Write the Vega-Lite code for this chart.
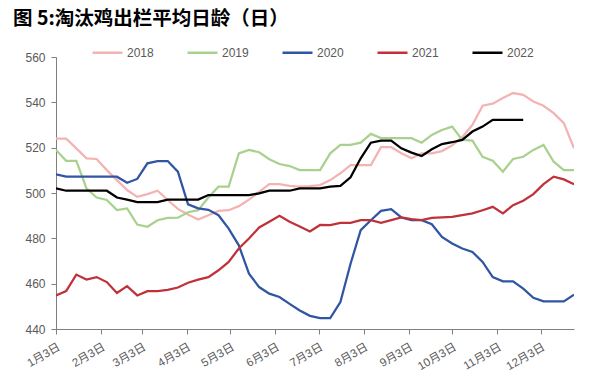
{
  "$schema": "https://vega.github.io/schema/vega-lite/v6.json",
  "width": 518,
  "height": 272,
  "autosize": {"type": "none"},
  "padding": {"left": 56, "top": 57, "right": 19, "bottom": 55},
  "background": "white",
  "title": {
    "text": "图 5:淘汰鸡出栏平均日龄（日）",
    "anchor": "start",
    "frame": "group",
    "dx": -43,
    "offset": 7,
    "font": "Noto Sans CJK SC",
    "fontSize": 19.5,
    "fontWeight": "bold",
    "color": "#000000"
  },
  "config": {
    "view": {"stroke": null},
    "font": "Liberation Sans"
  },
  "datasets": {
    "rows": [
      {"d":"2022-01-03","s":"2018","v":524},{"d":"2022-01-10","s":"2018","v":524},{"d":"2022-01-17","s":"2018","v":519.7},{"d":"2022-01-24","s":"2018","v":515.3},{"d":"2022-01-31","s":"2018","v":515},{"d":"2022-02-07","s":"2018","v":510.1},{"d":"2022-02-14","s":"2018","v":505.7},{"d":"2022-02-21","s":"2018","v":501.3},{"d":"2022-02-28","s":"2018","v":498.3},{"d":"2022-03-07","s":"2018","v":499.5},{"d":"2022-03-14","s":"2018","v":501},{"d":"2022-03-21","s":"2018","v":496.9},{"d":"2022-03-28","s":"2018","v":493},{"d":"2022-04-04","s":"2018","v":490.5},{"d":"2022-04-11","s":"2018","v":488.3},{"d":"2022-04-18","s":"2018","v":490.2},{"d":"2022-04-25","s":"2018","v":492.1},{"d":"2022-05-02","s":"2018","v":492.4},{"d":"2022-05-09","s":"2018","v":494.2},{"d":"2022-05-16","s":"2018","v":497.1},{"d":"2022-05-23","s":"2018","v":500.5},{"d":"2022-05-30","s":"2018","v":503.9},{"d":"2022-06-06","s":"2018","v":503.9},{"d":"2022-06-13","s":"2018","v":503.1},{"d":"2022-06-20","s":"2018","v":502.8},{"d":"2022-06-27","s":"2018","v":503},{"d":"2022-07-04","s":"2018","v":503.5},{"d":"2022-07-11","s":"2018","v":505.7},{"d":"2022-07-18","s":"2018","v":508.7},{"d":"2022-07-25","s":"2018","v":512.3},{"d":"2022-08-01","s":"2018","v":512.3},{"d":"2022-08-08","s":"2018","v":512.3},{"d":"2022-08-15","s":"2018","v":520.2},{"d":"2022-08-22","s":"2018","v":520.2},{"d":"2022-08-29","s":"2018","v":517.5},{"d":"2022-09-05","s":"2018","v":515.3},{"d":"2022-09-12","s":"2018","v":517.5},{"d":"2022-09-19","s":"2018","v":517.5},{"d":"2022-09-26","s":"2018","v":518.5},{"d":"2022-10-03","s":"2018","v":521},{"d":"2022-10-10","s":"2018","v":524.6},{"d":"2022-10-17","s":"2018","v":530.1},{"d":"2022-10-24","s":"2018","v":538.5},{"d":"2022-10-31","s":"2018","v":539.4},{"d":"2022-11-07","s":"2018","v":541.9},{"d":"2022-11-14","s":"2018","v":544.1},{"d":"2022-11-21","s":"2018","v":543.3},{"d":"2022-11-28","s":"2018","v":540.4},{"d":"2022-12-05","s":"2018","v":538.5},{"d":"2022-12-12","s":"2018","v":535.2},{"d":"2022-12-19","s":"2018","v":530.8},{"d":"2022-12-26","s":"2018","v":519.7},
      {"d":"2022-01-03","s":"2019","v":519},{"d":"2022-01-10","s":"2019","v":514.2},{"d":"2022-01-17","s":"2019","v":514.2},{"d":"2022-01-24","s":"2019","v":502},{"d":"2022-01-31","s":"2019","v":498},{"d":"2022-02-07","s":"2019","v":496.9},{"d":"2022-02-14","s":"2019","v":492.5},{"d":"2022-02-21","s":"2019","v":493.2},{"d":"2022-02-28","s":"2019","v":486.1},{"d":"2022-03-07","s":"2019","v":485.1},{"d":"2022-03-14","s":"2019","v":488},{"d":"2022-03-21","s":"2019","v":489},{"d":"2022-03-28","s":"2019","v":489.1},{"d":"2022-04-04","s":"2019","v":491.5},{"d":"2022-04-11","s":"2019","v":492.4},{"d":"2022-04-18","s":"2019","v":498},{"d":"2022-04-25","s":"2019","v":502.8},{"d":"2022-05-02","s":"2019","v":502.8},{"d":"2022-05-09","s":"2019","v":517.5},{"d":"2022-05-16","s":"2019","v":519},{"d":"2022-05-23","s":"2019","v":518},{"d":"2022-05-30","s":"2019","v":514.9},{"d":"2022-06-06","s":"2019","v":512.8},{"d":"2022-06-13","s":"2019","v":511.9},{"d":"2022-06-20","s":"2019","v":510.1},{"d":"2022-06-27","s":"2019","v":510.1},{"d":"2022-07-04","s":"2019","v":510.1},{"d":"2022-07-11","s":"2019","v":517.5},{"d":"2022-07-18","s":"2019","v":521.2},{"d":"2022-07-25","s":"2019","v":521.2},{"d":"2022-08-01","s":"2019","v":522.2},{"d":"2022-08-08","s":"2019","v":526.1},{"d":"2022-08-15","s":"2019","v":524.2},{"d":"2022-08-22","s":"2019","v":524.2},{"d":"2022-08-29","s":"2019","v":524.2},{"d":"2022-09-05","s":"2019","v":524.2},{"d":"2022-09-12","s":"2019","v":522.2},{"d":"2022-09-19","s":"2019","v":525.6},{"d":"2022-09-26","s":"2019","v":527.8},{"d":"2022-10-03","s":"2019","v":529.3},{"d":"2022-10-10","s":"2019","v":523.4},{"d":"2022-10-17","s":"2019","v":523.1},{"d":"2022-10-24","s":"2019","v":516},{"d":"2022-10-31","s":"2019","v":514.2},{"d":"2022-11-07","s":"2019","v":509.4},{"d":"2022-11-14","s":"2019","v":515},{"d":"2022-11-21","s":"2019","v":516},{"d":"2022-11-28","s":"2019","v":519},{"d":"2022-12-05","s":"2019","v":521.2},{"d":"2022-12-12","s":"2019","v":513.8},{"d":"2022-12-19","s":"2019","v":510.1},{"d":"2022-12-26","s":"2019","v":510.1},
      {"d":"2022-01-03","s":"2020","v":508.2},{"d":"2022-01-10","s":"2020","v":507.2},{"d":"2022-01-17","s":"2020","v":507.2},{"d":"2022-01-24","s":"2020","v":507.2},{"d":"2022-01-31","s":"2020","v":507.2},{"d":"2022-02-07","s":"2020","v":507.2},{"d":"2022-02-14","s":"2020","v":507.2},{"d":"2022-02-21","s":"2020","v":504.5},{"d":"2022-02-28","s":"2020","v":506.2},{"d":"2022-03-07","s":"2020","v":513.1},{"d":"2022-03-14","s":"2020","v":514.1},{"d":"2022-03-21","s":"2020","v":514.1},{"d":"2022-03-28","s":"2020","v":509.4},{"d":"2022-04-04","s":"2020","v":495},{"d":"2022-04-11","s":"2020","v":493.2},{"d":"2022-04-18","s":"2020","v":492.6},{"d":"2022-04-25","s":"2020","v":490.2},{"d":"2022-05-02","s":"2020","v":484.3},{"d":"2022-05-09","s":"2020","v":476.9},{"d":"2022-05-16","s":"2020","v":464.4},{"d":"2022-05-23","s":"2020","v":458.5},{"d":"2022-05-30","s":"2020","v":455.6},{"d":"2022-06-06","s":"2020","v":454.1},{"d":"2022-06-13","s":"2020","v":451.1},{"d":"2022-06-20","s":"2020","v":448.2},{"d":"2022-06-27","s":"2020","v":445.8},{"d":"2022-07-04","s":"2020","v":444.8},{"d":"2022-07-11","s":"2020","v":444.8},{"d":"2022-07-18","s":"2020","v":451.9},{"d":"2022-07-25","s":"2020","v":468.8},{"d":"2022-08-01","s":"2020","v":483.6},{"d":"2022-08-08","s":"2020","v":488},{"d":"2022-08-15","s":"2020","v":492.1},{"d":"2022-08-22","s":"2020","v":492.9},{"d":"2022-08-29","s":"2020","v":489.2},{"d":"2022-09-05","s":"2020","v":488},{"d":"2022-09-12","s":"2020","v":488},{"d":"2022-09-19","s":"2020","v":486.2},{"d":"2022-09-26","s":"2020","v":480.6},{"d":"2022-10-03","s":"2020","v":477.7},{"d":"2022-10-10","s":"2020","v":475.5},{"d":"2022-10-17","s":"2020","v":474},{"d":"2022-10-24","s":"2020","v":469.6},{"d":"2022-10-31","s":"2020","v":462.9},{"d":"2022-11-07","s":"2020","v":461},{"d":"2022-11-14","s":"2020","v":461},{"d":"2022-11-21","s":"2020","v":457.8},{"d":"2022-11-28","s":"2020","v":453.8},{"d":"2022-12-05","s":"2020","v":452.2},{"d":"2022-12-12","s":"2020","v":452.2},{"d":"2022-12-19","s":"2020","v":452.2},{"d":"2022-12-26","s":"2020","v":455.1},
      {"d":"2022-01-03","s":"2021","v":454.8},{"d":"2022-01-10","s":"2021","v":456.7},{"d":"2022-01-17","s":"2021","v":464},{"d":"2022-01-24","s":"2021","v":461.8},{"d":"2022-01-31","s":"2021","v":462.9},{"d":"2022-02-07","s":"2021","v":460.7},{"d":"2022-02-14","s":"2021","v":455.9},{"d":"2022-02-21","s":"2021","v":458.9},{"d":"2022-02-28","s":"2021","v":454.8},{"d":"2022-03-07","s":"2021","v":456.7},{"d":"2022-03-14","s":"2021","v":456.7},{"d":"2022-03-21","s":"2021","v":457.3},{"d":"2022-03-28","s":"2021","v":458.3},{"d":"2022-04-04","s":"2021","v":460.4},{"d":"2022-04-11","s":"2021","v":461.8},{"d":"2022-04-18","s":"2021","v":462.9},{"d":"2022-04-25","s":"2021","v":465.9},{"d":"2022-05-02","s":"2021","v":469.6},{"d":"2022-05-09","s":"2021","v":475.5},{"d":"2022-05-16","s":"2021","v":479.9},{"d":"2022-05-23","s":"2021","v":484.8},{"d":"2022-05-30","s":"2021","v":487.3},{"d":"2022-06-06","s":"2021","v":489.9},{"d":"2022-06-13","s":"2021","v":487.3},{"d":"2022-06-20","s":"2021","v":485.2},{"d":"2022-06-27","s":"2021","v":483},{"d":"2022-07-04","s":"2021","v":485.9},{"d":"2022-07-11","s":"2021","v":485.8},{"d":"2022-07-18","s":"2021","v":486.8},{"d":"2022-07-25","s":"2021","v":486.8},{"d":"2022-08-01","s":"2021","v":488},{"d":"2022-08-08","s":"2021","v":488},{"d":"2022-08-15","s":"2021","v":486.8},{"d":"2022-08-22","s":"2021","v":488},{"d":"2022-08-29","s":"2021","v":489.2},{"d":"2022-09-05","s":"2021","v":488.5},{"d":"2022-09-12","s":"2021","v":488},{"d":"2022-09-19","s":"2021","v":489},{"d":"2022-09-26","s":"2021","v":489.3},{"d":"2022-10-03","s":"2021","v":489.5},{"d":"2022-10-10","s":"2021","v":490.2},{"d":"2022-10-17","s":"2021","v":491},{"d":"2022-10-24","s":"2021","v":492.4},{"d":"2022-10-31","s":"2021","v":493.9},{"d":"2022-11-07","s":"2021","v":491},{"d":"2022-11-14","s":"2021","v":494.6},{"d":"2022-11-21","s":"2021","v":496.6},{"d":"2022-11-28","s":"2021","v":499.5},{"d":"2022-12-05","s":"2021","v":503.9},{"d":"2022-12-12","s":"2021","v":507.2},{"d":"2022-12-19","s":"2021","v":506},{"d":"2022-12-26","s":"2021","v":503.9},
      {"d":"2022-01-03","s":"2022","v":502},{"d":"2022-01-10","s":"2022","v":501},{"d":"2022-01-17","s":"2022","v":501},{"d":"2022-01-24","s":"2022","v":501},{"d":"2022-01-31","s":"2022","v":501},{"d":"2022-02-07","s":"2022","v":501},{"d":"2022-02-14","s":"2022","v":498},{"d":"2022-02-21","s":"2022","v":497.1},{"d":"2022-02-28","s":"2022","v":496},{"d":"2022-03-07","s":"2022","v":496},{"d":"2022-03-14","s":"2022","v":496},{"d":"2022-03-21","s":"2022","v":497.1},{"d":"2022-03-28","s":"2022","v":497.1},{"d":"2022-04-04","s":"2022","v":497.1},{"d":"2022-04-11","s":"2022","v":497.1},{"d":"2022-04-18","s":"2022","v":499.1},{"d":"2022-04-25","s":"2022","v":499.1},{"d":"2022-05-02","s":"2022","v":499.1},{"d":"2022-05-09","s":"2022","v":499.1},{"d":"2022-05-16","s":"2022","v":499.1},{"d":"2022-05-23","s":"2022","v":499.8},{"d":"2022-05-30","s":"2022","v":501},{"d":"2022-06-06","s":"2022","v":501},{"d":"2022-06-13","s":"2022","v":501},{"d":"2022-06-20","s":"2022","v":502},{"d":"2022-06-27","s":"2022","v":502},{"d":"2022-07-04","s":"2022","v":502},{"d":"2022-07-11","s":"2022","v":502.8},{"d":"2022-07-18","s":"2022","v":503.1},{"d":"2022-07-25","s":"2022","v":506.9},{"d":"2022-08-01","s":"2022","v":515.3},{"d":"2022-08-08","s":"2022","v":522.2},{"d":"2022-08-15","s":"2022","v":523.1},{"d":"2022-08-22","s":"2022","v":523.1},{"d":"2022-08-29","s":"2022","v":519.7},{"d":"2022-09-05","s":"2022","v":517.8},{"d":"2022-09-12","s":"2022","v":516.3},{"d":"2022-09-19","s":"2022","v":519.3},{"d":"2022-09-26","s":"2022","v":521.6},{"d":"2022-10-03","s":"2022","v":522.4},{"d":"2022-10-10","s":"2022","v":523.4},{"d":"2022-10-17","s":"2022","v":527.1},{"d":"2022-10-24","s":"2022","v":529.3},{"d":"2022-10-31","s":"2022","v":532.3},{"d":"2022-11-07","s":"2022","v":532.3},{"d":"2022-11-14","s":"2022","v":532.3},{"d":"2022-11-21","s":"2022","v":532.3}
    ]
  },
  "data": {"name": "rows"},
  "mark": {"type": "line", "strokeWidth": 2.25, "interpolate": "linear", "clip": true},
  "encoding": {
    "x": {
      "field": "d",
      "type": "temporal",
      "scale": {
        "type": "utc",
        "domain": [
          {"year": 2022, "month": 1, "date": 3, "utc": true},
          {"year": 2022, "month": 12, "date": 26, "utc": true}
        ],
        "nice": false
      },
      "axis": {
        "title": null,
        "grid": false,
        "values": [
          {"year": 2022, "month": 1, "date": 3, "utc": true},
          {"year": 2022, "month": 2, "date": 3, "utc": true},
          {"year": 2022, "month": 3, "date": 3, "utc": true},
          {"year": 2022, "month": 4, "date": 3, "utc": true},
          {"year": 2022, "month": 5, "date": 3, "utc": true},
          {"year": 2022, "month": 6, "date": 3, "utc": true},
          {"year": 2022, "month": 7, "date": 3, "utc": true},
          {"year": 2022, "month": 8, "date": 3, "utc": true},
          {"year": 2022, "month": 9, "date": 3, "utc": true},
          {"year": 2022, "month": 10, "date": 3, "utc": true},
          {"year": 2022, "month": 11, "date": 3, "utc": true},
          {"year": 2022, "month": 12, "date": 3, "utc": true}
        ],
        "labelExpr": "utcFormat(datum.value, '%-m月%-d日')",
        "labelAngle": -30,
        "labelAlign": "right",
        "labelBaseline": "top",
        "labelPadding": 7,
        "labelFont": "Liberation Sans, Noto Sans CJK SC",
        "labelFontSize": 11.5,
        "labelColor": "#595959",
        "labelOverlap": false,
        "labelFlush": false,
        "domainColor": "#7f7f7f",
        "domainWidth": 1,
        "tickColor": "#7f7f7f",
        "tickSize": 5
      }
    },
    "y": {
      "field": "v",
      "type": "quantitative",
      "scale": {"domain": [440, 560], "nice": false, "zero": false},
      "axis": {
        "title": null,
        "grid": false,
        "values": [440, 460, 480, 500, 520, 540, 560],
        "labelFont": "Liberation Sans",
        "labelFontSize": 12,
        "labelColor": "#595959",
        "labelPadding": 6,
        "domainColor": "#7f7f7f",
        "domainWidth": 1,
        "tickColor": "#7f7f7f",
        "tickSize": 5
      }
    },
    "color": {
      "field": "s",
      "type": "nominal",
      "scale": {
        "domain": ["2018", "2019", "2020", "2021", "2022"],
        "range": ["#F4B3B3", "#A9D18E", "#2F55A3", "#C0313A", "#000000"]
      },
      "legend": {
        "title": null,
        "orient": "none",
        "direction": "horizontal",
        "legendX": 35,
        "legendY": -21,
        "symbolType": "stroke",
        "symbolSize": 900,
        "symbolStrokeWidth": 2.5,
        "labelFont": "Liberation Sans",
        "labelFontSize": 12,
        "labelColor": "#595959",
        "labelOffset": 3,
        "columnPadding": 28
      }
    }
  }
}
